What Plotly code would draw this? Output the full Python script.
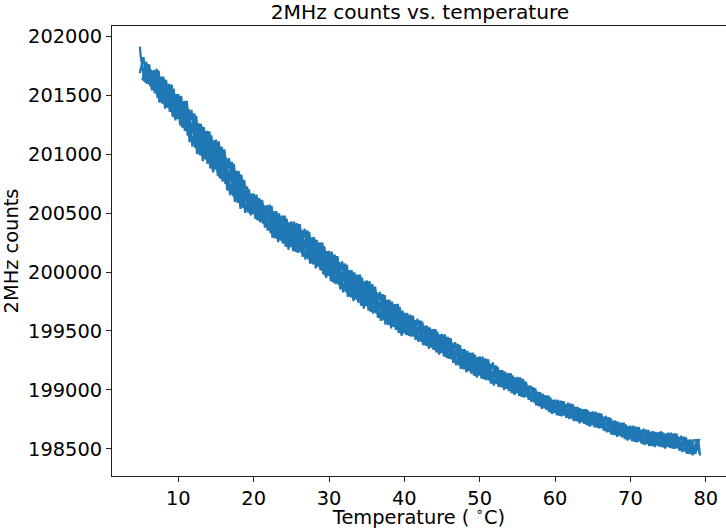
import plotly.graph_objects as go

# ---- data (temperature in deg C, 2MHz counts) ----
# first heating sweep
temperature_heat1 = [
    4.9, 5.0, 5.5, 6.0, 6.5, 7.0, 7.5, 8.0, 8.5, 9.0, 9.5, 10.0, 10.5, 11.0, 11.5, 12.0, 12.5, 13.0,
    13.5, 14.0, 14.5, 15.0, 15.5, 16.0, 16.5, 17.0, 17.5, 18.0, 18.5, 19.0, 19.5, 20.0, 20.5, 21.0, 21.5,
    22.0, 22.5, 23.0, 23.5, 24.0, 24.5, 25.0, 25.5, 26.0, 26.5, 27.0, 27.5, 28.0, 28.5, 29.0,
    29.5, 30.0, 30.5, 31.0, 31.5, 32.0, 32.5, 33.0, 33.5, 34.0, 34.5, 35.0, 35.5, 36.0, 36.5, 37.0,
    37.5, 38.0, 38.5, 39.0, 39.5, 40.0, 40.5, 41.0, 41.5, 42.0, 42.5, 43.0, 43.5, 44.0, 44.5, 45.0,
    45.5, 46.0, 46.5, 47.0, 47.5, 48.0, 48.5, 49.0, 49.5, 50.0,
    50.5, 51.0, 51.5, 52.0, 52.5, 53.0, 53.5, 54.0, 54.5, 55.0, 55.5, 56.0, 56.5, 57.0, 57.5, 58.0,
    58.5, 59.0, 59.5, 60.0, 60.5, 61.0, 61.5, 62.0, 62.5, 63.0, 63.5, 64.0, 64.5, 65.0, 65.5, 66.0,
    66.5, 67.0, 67.5, 68.0, 68.5, 69.0, 69.5, 70.0, 70.5, 71.0, 71.5, 72.0, 72.5, 73.0, 73.5, 74.0,
    74.5, 75.0, 75.5, 76.0, 76.5, 77.0, 77.5, 78.0, 78.5, 79.0,
]
counts_heat1 = [
    201910,
    201835, 201620, 201760, 201540, 201701, 201435, 201655, 201405, 201588, 201305,
    201508, 201227, 201450, 201101, 201320, 201000, 201256, 200968, 201192, 200869,
    201122, 200797, 201040, 200691, 200910, 200595, 200856, 200558, 200725, 200496,
    200665, 200442, 200610, 200376, 200551, 200290, 200515, 200280, 200478, 200210,
    200428, 200177, 200405, 200128, 200331, 200070, 200295, 200055, 200248, 199970,
    200178, 199917, 200135, 199853, 200051, 199790, 200015, 199780, 199978, 199710,
    199928, 199667, 199875, 199612, 199794, 199555, 199766, 199547, 199729, 199479,
    199655, 199465, 199630, 199425, 199575, 199380, 199545, 199370, 199515, 199315,
    199475, 199280, 199440, 199230, 199375, 199180, 199345, 199170, 199315, 199120,
    199285, 199095, 199260, 199055, 199194, 199027, 199167, 199018, 199141, 198973,
    199111, 198947, 199070, 198917, 199013, 198870, 198980, 198853, 198952, 198808,
    198917, 198786, 198905, 198765, 198873, 198738, 198855, 198733, 198837, 198700,
    198817, 198684, 198800, 198655, 198758, 198622, 198740, 198619, 198722, 198582,
    198697, 198566, 198685, 198545, 198653, 198525, 198650, 198536, 198647, 198515,
    198637, 198509, 198630, 198487, 198593, 198460, 198580, 198466, 198577,
]

# first cooling sweep
temperature_cool1 = [
    79.25, 78.75, 78.25, 77.75, 77.25, 76.75, 76.25, 75.75, 75.25, 74.75, 74.25, 73.75, 73.25, 72.75,
    72.25, 71.75, 71.25, 70.75, 70.25, 69.75, 69.25, 68.75, 68.25, 67.75, 67.25, 66.75, 66.25, 65.75,
    65.25, 64.75, 64.25, 63.75, 63.25, 62.75, 62.25, 61.75, 61.25, 60.75, 60.25, 59.75, 59.25, 58.75,
    58.25, 57.75, 57.25, 56.75, 56.25, 55.75, 55.25, 54.75, 54.25, 53.75, 53.25, 52.75, 52.25, 51.75,
    51.25, 50.75, 50.25,
    49.75, 49.25, 48.75, 48.25, 47.75, 47.25, 46.75, 46.25, 45.75, 45.25, 44.75, 44.25, 43.75, 43.25,
    42.75, 42.25, 41.75, 41.25, 40.75, 40.25, 39.75, 39.25, 38.75, 38.25, 37.75, 37.25, 36.75, 36.25,
    35.75, 35.25, 34.75, 34.25, 33.75, 33.25, 32.75, 32.25, 31.75, 31.25, 30.75, 30.25, 29.75,
    29.25, 28.75, 28.25, 27.75, 27.25, 26.75, 26.25, 25.75, 25.25, 24.75, 24.25, 23.75, 23.25, 22.75,
    22.25,
    21.75, 21.25, 20.75, 20.25, 19.75, 19.25, 18.75, 18.25, 17.75, 17.25, 16.75, 16.25, 15.75, 15.25,
    14.75, 14.25, 13.75, 13.25,
    12.75, 12.25, 11.75, 11.25, 10.75, 10.25, 9.75, 9.25, 8.75, 8.25, 7.75, 7.25, 6.75, 6.25, 5.75, 5.25,
]
counts_cool1 = [
    198445, 198572, 198448, 198578, 198479, 198612, 198506, 198632, 198508, 198628,
    198515, 198642, 198518, 198645, 198542, 198671, 198563, 198688, 198566, 198692,
    198585, 198722, 198604, 198739, 198642, 198779, 198675, 198805, 198685, 198811,
    198702, 198836, 198718, 198855, 198758, 198891, 198783, 198908, 198786, 198916,
    198813, 198954, 198841, 198983, 198894, 199037, 198941, 199093, 198950, 199106,
    198975, 199141, 199001, 199168, 199053, 199233, 199082, 199268, 199097, 199278,
    199122, 199315, 199150, 199345, 199210, 199405, 199260, 199450, 199285, 199470,
    199320, 199515, 199350, 199545, 199410, 199603, 199452, 199638, 199467, 199672,
    199485, 199728, 199523, 199764, 199590, 199831, 199650, 199897, 199673, 199920,
    199716, 199977, 199753, 200013, 199830, 200090, 199893, 200147, 199923, 200176,
    199980, 200250, 200030, 200293, 200110, 200368, 200165, 200413, 200177, 200420,
    200216, 200477, 200253, 200513, 200330, 200567, 200411, 200625, 200451, 200663,
    200506, 200781, 200535, 200858, 200644, 200964, 200746, 201062, 200812, 201116,
    200878, 201196, 200940, 201260, 201052, 201374, 201156, 201447, 201243, 201508,
    201318, 201595, 201385, 201656, 201477, 201710, 201575, 201780, 201635,
]

# second heating sweep
temperature_heat2 = [
    5.625, 6.125, 6.625, 7.125, 7.625, 8.125, 8.625, 9.125, 9.625, 10.125,
    10.625, 11.125, 11.625, 12.125, 12.625, 13.125, 13.625, 14.125, 14.625, 15.125,
    15.625, 16.125, 16.625, 17.125, 17.625, 18.125, 18.625, 19.125, 19.625, 20.125,
    20.625, 21.125, 21.625, 22.125, 22.625, 23.125, 23.625, 24.125, 24.625, 25.125,
    25.625, 26.125, 26.625, 27.125, 27.625, 28.125, 28.625, 29.125, 29.625, 30.125,
    30.625, 31.125, 31.625, 32.125, 32.625, 33.125, 33.625, 34.125, 34.625, 35.125,
    35.625, 36.125, 36.625, 37.125, 37.625, 38.125, 38.625, 39.125, 39.625, 40.125,
    40.625, 41.125, 41.625, 42.125, 42.625, 43.125, 43.625, 44.125, 44.625, 45.125,
    45.625, 46.125, 46.625, 47.125, 47.625, 48.125, 48.625, 49.125, 49.625, 50.125,
    50.625, 51.125, 51.625, 52.125, 52.625, 53.125, 53.625, 54.125, 54.625, 55.125,
    55.625, 56.125, 56.625, 57.125, 57.625, 58.125, 58.625, 59.125, 59.625, 60.125,
    60.625, 61.125, 61.625, 62.125, 62.625, 63.125, 63.625, 64.125, 64.625, 65.125,
    65.625, 66.125, 66.625, 67.125, 67.625, 68.125, 68.625, 69.125, 69.625, 70.125,
    70.625, 71.125, 71.625, 72.125, 72.625, 73.125, 73.625, 74.125, 74.625, 75.125,
    75.625, 76.125, 76.625, 77.125, 77.625, 78.125, 78.625, 79.125,
]
counts_heat2 = [
    201615, 201760, 201555, 201722, 201442, 201635, 201392, 201588, 201285, 201488,
    201220, 201450, 201125, 201344, 201008, 201232, 200952, 201192, 200845, 201098,
    200789, 201040, 200715, 200934, 200603, 200832, 200542, 200725, 200480, 200648,
    200436, 200610, 200392, 200572, 200297, 200495, 200267, 200478, 200190, 200408,
    200170, 200405, 200149, 200352, 200077, 200275, 200042, 200248, 199950, 200158,
    199910, 200135, 199874, 200072, 199797, 199995, 199767, 199978, 199690, 199908,
    199660, 199875, 199631, 199813, 199561, 199748, 199535, 199729, 199460, 199640,
    199460, 199630, 199440, 199590, 199385, 199530, 199360, 199515, 199300, 199460,
    199275, 199440, 199245, 199390, 199185, 199330, 199160, 199315, 199105, 199270,
    199090, 199260, 199070, 199207, 199031, 199155, 199010, 199141, 198960, 199098,
    198943, 199070, 198927, 199023, 198873, 198969, 198846, 198952, 198798, 198906,
    198782, 198905, 198775, 198883, 198741, 198844, 198726, 198837, 198690, 198806,
    198680, 198800, 198665, 198768, 198625, 198729, 198612, 198722, 198572, 198686,
    198562, 198685, 198555, 198663, 198528, 198639, 198529, 198647, 198505, 198626,
    198505, 198630, 198497, 198603, 198463, 198569, 198459, 198577,
]

# second cooling sweep
temperature_cool2 = [
    78.375, 77.875, 77.375, 76.875, 76.375, 75.875, 75.375, 74.875, 74.375, 73.875,
    73.375, 72.875, 72.375, 71.875, 71.375, 70.875, 70.375, 69.875, 69.375, 68.875,
    68.375, 67.875, 67.375, 66.875, 66.375, 65.875, 65.375, 64.875, 64.375, 63.875,
    63.375, 62.875, 62.375, 61.875, 61.375, 60.875, 60.375, 59.875, 59.375, 58.875,
    58.375, 57.875, 57.375, 56.875, 56.375, 55.875, 55.375, 54.875, 54.375, 53.875,
    53.375, 52.875, 52.375, 51.875, 51.375, 50.875, 50.375, 49.875, 49.375, 48.875,
    48.375, 47.875, 47.375, 46.875, 46.375, 45.875, 45.375, 44.875, 44.375, 43.875,
    43.375, 42.875, 42.375, 41.875, 41.375, 40.875, 40.375, 39.875, 39.375, 38.875,
    38.375, 37.875, 37.375, 36.875, 36.375, 35.875, 35.375, 34.875, 34.375, 33.875,
    33.375, 32.875, 32.375, 31.875, 31.375, 30.875, 30.375, 29.875, 29.375, 28.875,
    28.375, 27.875, 27.375, 26.875, 26.375, 25.875, 25.375, 24.875, 24.375, 23.875,
    23.375, 22.875, 22.375, 21.875, 21.375, 20.875, 20.375, 19.875, 19.375, 18.875,
    18.375, 17.875, 17.375, 16.875, 16.375, 15.875, 15.375, 14.875, 14.375, 13.875,
    13.375, 12.875, 12.375, 11.875, 11.375, 10.875, 10.375, 9.875, 9.375, 8.875,
    8.375, 7.875, 7.375, 6.875, 6.375, 5.875, 5.375, 4.875,
]
counts_cool2 = [
    198574, 198458, 198598, 198475, 198604, 198502, 198638, 198519, 198638, 198519,
    198644, 198525, 198661, 198534, 198661, 198558, 198696, 198583, 198708, 198599,
    198730, 198619, 198761, 198642, 198773, 198675, 198815, 198702, 198825, 198713,
    198844, 198735, 198877, 198754, 198881, 198778, 198916, 198807, 198936, 198831,
    198967, 198863, 199013, 198900, 199039, 198936, 199107, 198974, 199124, 198992,
    199154, 199023, 199198, 199038, 199222, 199083, 199282, 199123, 199297, 199140,
    199330, 199175, 199380, 199210, 199400, 199265, 199470, 199315, 199495, 199340,
    199530, 199375, 199580, 199408, 199592, 199453, 199652, 199478, 199704, 199509,
    199748, 199551, 199803, 199587, 199826, 199647, 199923, 199711, 199953, 199740,
    199996, 199784, 200060, 199827, 200083, 199897, 200173, 199967, 200217, 200013,
    200273, 200064, 200340, 200105, 200355, 200163, 200427, 200211, 200453, 200240,
    200496, 200284, 200560, 200352, 200565, 200421, 200655, 200492, 200699, 200501,
    200823, 200586, 200916, 200652, 200970, 200766, 201108, 200868, 201158, 200916,
    201228, 200988, 201324, 201062, 201380, 201197, 201493, 201299, 201555, 201358,
    201628, 201427, 201707, 201515, 201715, 201595, 201820, 201685,
]

x_ticks = [10, 20, 30, 40, 50, 60, 70, 80]
y_ticks = [198500, 199000, 199500, 200000, 200500, 201000, 201500, 202000]

# one continuous trace, sweeps in recording order
temperature = temperature_heat1 + temperature_cool1 + temperature_heat2 + temperature_cool2
counts = counts_heat1 + counts_cool1 + counts_heat2 + counts_cool2

FONT = "DejaVu Sans"
FS = 19.4
fig = go.Figure()
fig.add_trace(go.Scatter(
    x=temperature, y=counts, mode="lines",
    line=dict(color="#1f77b4", width=2.2),
    showlegend=False, hoverinfo="skip",
))

fig.update_layout(
    width=726, height=529,
    margin=dict(l=112, r=0, t=26, b=53),
    plot_bgcolor="white", paper_bgcolor="white",
    font=dict(family=FONT, size=FS, color="black"),
    title=dict(text="2MHz counts vs. temperature", x=420 / 726, xref="container",
               xanchor="center", y=1 - 12 / 529, yref="container", yanchor="middle",
               font=dict(family=FONT, size=20.2, color="black")),
)
fig.update_xaxes(
    range=[1.2, 82.69], tickvals=x_ticks, ticktext=[str(t) for t in x_ticks],
    automargin=False,
    showgrid=False, zeroline=False,
    showline=True, linecolor="#222", linewidth=1, mirror=True,
    ticks="outside", ticklen=5, tickwidth=1, tickcolor="#222",
    tickfont=dict(family=FONT, size=FS, color="black"),
    title=dict(text="Temperature ( <sup>∘</sup>C)", standoff=2,
               font=dict(family=FONT, size=FS, color="black")),
)
fig.update_yaxes(
    range=[198271, 202085], tickvals=y_ticks, ticktext=[str(t) for t in y_ticks],
    automargin=False,
    showgrid=False, zeroline=False,
    showline=True, linecolor="#222", linewidth=1, mirror=False,
    ticks="outside", ticklen=5, tickwidth=1, tickcolor="#222",
    tickfont=dict(family=FONT, size=FS, color="black"),
    title=dict(text="2MHz counts", standoff=8,
               font=dict(family=FONT, size=FS, color="black")),
)

fig.write_html(
    "out.html",
    config={"displayModeBar": False},
    post_script="document.body.style.margin='0';document.body.style.overflow='hidden';",
)
